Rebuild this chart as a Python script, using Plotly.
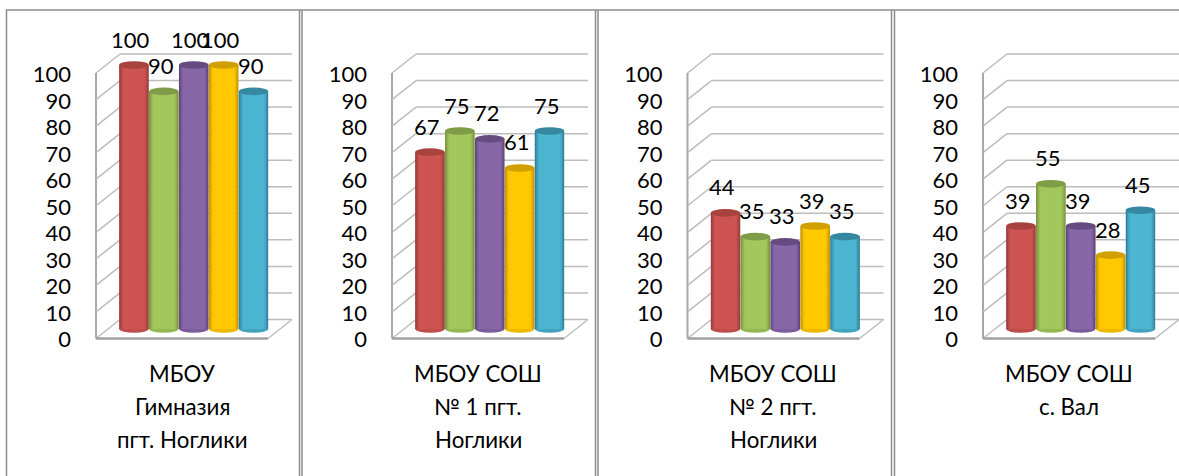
import plotly.graph_objects as go

W, H = 1179, 476
TICKS = [0, 10, 20, 30, 40, 50, 60, 70, 80, 90, 100]

# Data
category_lines = [
    ["МБОУ", "Гимназия", "пгт. Ноглики"],
    ["МБОУ СОШ", "№ 1 пгт.", "Ноглики"],
    ["МБОУ СОШ", "№ 2 пгт.", "Ноглики"],
    ["МБОУ СОШ", "с. Вал"],
]
school_1 = [100, 90, 100, 100, 90]
school_2 = [67, 75, 72, 61, 75]
school_3 = [44, 35, 33, 39, 35]
school_4 = [39, 55, 39, 28, 45]
panel_values = [school_1, school_2, school_3, school_4]

# Styling
edge_colors = ["#943c3a", "#76923c", "#5c4678", "#c29200", "#2f7c96"]
base_colors = ["#cd5452", "#a2c75c", "#8767a8", "#ffc800", "#4cb5d2"]
cap_colors = ["#a8423f", "#7f9c47", "#654b80", "#cfa000", "#35889f"]
LAYER_WIDTHS = [0.99, 0.945, 0.90, 0.855, 0.81, 0.765, 0.72]
LAYER_MIX = [0.0, 0.2, 0.4, 0.58, 0.74, 0.88, 1.0]
FONT = "Lato, 'Noto Sans', sans-serif"
GRID = "#bcbcbc"
BORDER = "#8c8c8c"
WALL_X = [96, 392, 687.5, 983]
DEPTH_X, DEPTH_Y = 24, 19
FLOOR_W, BAR_LEFT, SLOT = 172, 23, 29.9
Y0, PX = 329.0, 2.64
CAP_HALF = 3.8 / PX


def mix(a, b, t):
    ca = [int(a[i:i + 2], 16) for i in (1, 3, 5)]
    cb = [int(b[i:i + 2], 16) for i in (1, 3, 5)]
    return "rgb(%d,%d,%d)" % tuple(round(p + (q - p) * t) for p, q in zip(ca, cb))


def px(x):
    return x / W


def py(y):
    return 1 - y / H


def seg(x0, y0, x1, y1, color=GRID, width=1.5):
    return dict(type="line", xref="paper", yref="paper", layer="below",
                x0=px(x0), y0=py(y0), x1=px(x1), y1=py(y1),
                line=dict(color=color, width=width))


fig = go.Figure()
shapes, annotations = [], []
layout = {}

# Panel frames
shapes.append(seg(6, 10, W, 10, BORDER, 1.5))
for x in [6.5, 299.5, 302, 595.5, 598, 891.5, 894.5]:
    shapes.append(seg(x, 10, x, H, BORDER, 1.5))

for p, (wx, values, lines) in enumerate(zip(WALL_X, panel_values, category_lines)):
    xa, ya = 2 * p + 1, 2 * p + 1
    xb, yb = 2 * p + 2, 2 * p + 2
    xn, yn = f"x{xa}", f"y{ya}"
    x_left = wx + BAR_LEFT
    vmin, vmax = -5, 105
    layout[f"xaxis{xa}"] = dict(domain=[px(x_left), min(1, px(x_left + 5 * SLOT))],
                                range=[-0.5, 4.5], visible=False, anchor=yn)
    layout[f"yaxis{ya}"] = dict(domain=[py(Y0 - vmin * PX), py(Y0 - vmax * PX)],
                                range=[vmin, vmax], visible=False, anchor=xn)
    # Value axis on the front wall
    layout[f"xaxis{xb}"] = dict(domain=[px(wx), px(wx + FLOOR_W)], range=[0, 1],
                                visible=False, anchor=f"y{yb}")
    layout[f"yaxis{yb}"] = dict(domain=[py(339.5), py(74.5)], range=[0, 100], anchor=f"x{xb}",
                                tickvals=TICKS, ticks="", showgrid=False, zeroline=False,
                                showline=False, ticklabelstandoff=24,
                                tickfont=dict(family=FONT, size=22, color="#000"))
    fig.add_trace(go.Scatter(x=[0] * len(TICKS), y=TICKS, mode="none", xaxis=f"x{xb}",
                             yaxis=f"y{yb}", showlegend=False, hoverinfo="skip"))

    # Walls from the tick values
    front = lambda v: 338.5 - 2.655 * v
    shapes.append(seg(wx, front(100), wx, front(0), "#a8a8a8", 2))
    for t in TICKS:
        y = front(t)
        shapes.append(seg(wx, y, wx + DEPTH_X, y - DEPTH_Y))
        shapes.append(seg(wx + DEPTH_X, y - DEPTH_Y, wx + FLOOR_W + DEPTH_X, y - DEPTH_Y))
    y = front(0)
    shapes.append(seg(wx, y, wx + FLOOR_W, y, "#a0a0a0", 2.5))
    shapes.append(seg(wx + FLOOR_W, y, wx + FLOOR_W + DEPTH_X, y - DEPTH_Y))

    # Cylinders: nested bars give the shading
    idx = list(range(len(values)))
    for w, t in zip(LAYER_WIDTHS, LAYER_MIX):
        fig.add_trace(go.Bar(x=idx, y=values, width=w, xaxis=xn, yaxis=yn, showlegend=False,
                             marker=dict(color=[mix(e, b, t) for e, b in zip(edge_colors, base_colors)],
                                         line=dict(width=0)),
                             hoverinfo="y"))
    for i, v in enumerate(values):
        # foot and top of each cylinder
        shapes.append(dict(type="circle", xref=xn, yref=yn, layer="between",
                           x0=i - 0.49, x1=i + 0.49, y0=-CAP_HALF, y1=CAP_HALF,
                           fillcolor=mix(edge_colors[i], base_colors[i], 0.7), line=dict(width=0)))
        shapes.append(dict(type="circle", xref=xn, yref=yn, layer="above",
                           x0=i - 0.495, x1=i + 0.495, y0=v - CAP_HALF, y1=v + CAP_HALF,
                           fillcolor=cap_colors[i], line=dict(width=0)))
        annotations.append(dict(x=i, y=v, xref=xn, yref=yn, text=str(v), showarrow=False,
                                xshift=-3, yshift=26, font=dict(family=FONT, size=22, color="#000")))

    # Category label, one line at a time
    for line, yy in zip(lines, [373, 406.5, 439.5]):
        annotations.append(dict(x=px(wx + 86), y=py(yy), xref="paper", yref="paper", text=line,
                                showarrow=False, xanchor="center", yanchor="middle",
                                font=dict(family=FONT, size=22.3, color="#000")))

fig.update_layout(width=W, height=H, autosize=False, margin=dict(l=0, r=0, t=0, b=0, pad=0, autoexpand=False),
                  barmode="overlay",
                  paper_bgcolor="white", plot_bgcolor="rgba(0,0,0,0)", showlegend=False,
                  shapes=shapes, annotations=annotations, **layout)
fig.write_html("out.html", config={"displayModeBar": False},
               post_script="document.documentElement.style.margin='0';document.body.style.margin='0';")
